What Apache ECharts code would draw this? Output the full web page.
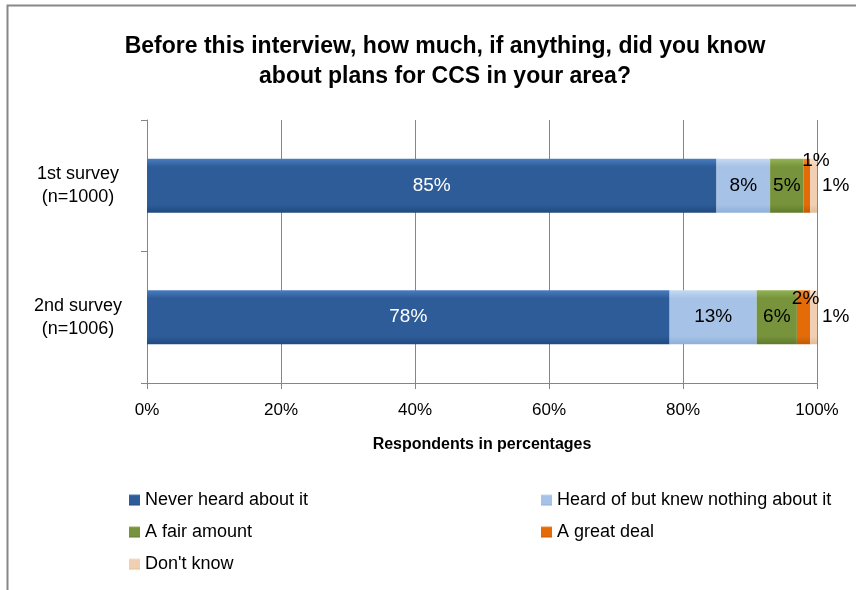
<!DOCTYPE html>
<html><head><meta charset="utf-8">
<script src="https://cdn.jsdelivr.net/npm/echarts@6/dist/echarts.min.js"></script>
<style>html,body{margin:0;padding:0;background:#fff}#c{width:856px;height:590px}</style>
</head><body><div id="c"></div>
<script>
const categories = ['1st survey\n(n=1000)', '2nd survey\n(n=1006)'];
const seriesNames = ['Never heard about it', 'Heard of but knew nothing about it', 'A fair amount', 'A great deal', "Don't know"];
const neverHeard = [85, 78];
const heardOf = [8, 13];
const fairAmount = [5, 6];
const greatDeal = [1, 2];
const dontKnow = [1, 1];
const xTicks = [0, 20, 40, 60, 80, 100];

const FONT = "'Liberation Sans', sans-serif";
const colors = [
  ['#4a7cc0', '#2d5c98', '#1f4a80'],
  ['#c6d9f1', '#a6c2e6', '#8eafd8'],
  ['#93b356', '#77933c', '#5f7a2c'],
  ['#f58a2c', '#e36c09', '#c25a05'],
  ['#f8e0cc', '#f1cfb2', '#e2bc9a']
];
function grad(c){
  return new echarts.graphic.LinearGradient(0,0,0,1,[
    {offset:0,color:c[0]},{offset:0.15,color:c[1]},{offset:0.85,color:c[1]},{offset:1,color:c[2]}]);
}
const values = [neverHeard, heardOf, fairAmount, greatDeal, dontKnow];
const labelOffsets = { 3: [[9,-25],[2,-18]] };
const series = values.map((vals, i) => ({
  name: seriesNames[i],
  type: 'bar',
  stack: 'total',
  barWidth: 54,
  itemStyle: { color: grad(colors[i]) },
  label: {
    show: true,
    position: i === 4 ? 'right' : 'inside',
    distance: i === 4 ? 5 : 6,
    formatter: '{c}%',
    fontFamily: FONT,
    fontSize: 19,
    color: i === 0 ? '#fff' : '#000'
  },
  data: vals.map((v, j) => {
    if (labelOffsets[i]) return { value: v, label: { offset: labelOffsets[i][j] } };
    return v;
  })
}));

const chart = echarts.init(document.getElementById('c'));
chart.setOption({
  animation: false,
  color: colors.map(c => c[1]),
  title: {
    text: 'Before this interview, how much, if anything, did you know\nabout plans for CCS in your area?',
    left: 440, top: 27, textAlign: 'center',
    textStyle: { fontFamily: FONT, fontSize: 23, fontWeight: 'bold', color: '#000', lineHeight: 30 }
  },
  grid: { left: 147, right: 39, top: 120, bottom: 207, containLabel: false },
  xAxis: {
    type: 'value', min: xTicks[0], max: xTicks[xTicks.length-1], interval: 20,
    name: 'Respondents in percentages', nameLocation: 'middle', nameGap: 54,
    nameTextStyle: { fontFamily: FONT, fontSize: 16, fontWeight: 'bold', color: '#000' },
    axisLine: { show: true, lineStyle: { color: '#868686', width: 1 } },
    axisTick: { show: true, length: 6, lineStyle: { color: '#868686' } },
    axisLabel: { formatter: '{value}%', fontFamily: FONT, fontSize: 17, color: '#000', margin: 19 },
    splitLine: { show: true, lineStyle: { color: '#868686', width: 1 } }
  },
  yAxis: {
    type: 'category', data: categories, inverse: true,
    axisLine: { show: true, lineStyle: { color: '#868686' } },
    axisTick: { show: true, length: 6, lineStyle: { color: '#868686' } },
    axisLabel: { fontFamily: FONT, fontSize: 18, color: '#000', align: 'center', margin: 69, lineHeight: 23 }
  },
  legend: [
    { data: [seriesNames[0], seriesNames[2], seriesNames[4]], orient: 'vertical', left: 124, top: 486,
      itemWidth: 11, itemHeight: 11, itemGap: 14, icon: 'rect',
      textStyle: { fontFamily: FONT, fontSize: 18, color: '#000' } },
    { data: [seriesNames[1], seriesNames[3]], orient: 'vertical', left: 536, top: 486,
      itemWidth: 11, itemHeight: 11, itemGap: 14, icon: 'rect',
      textStyle: { fontFamily: FONT, fontSize: 18, color: '#000' } }
  ],
  graphic: [{
    type: 'rect', shape: { x: 7.5, y: 5.5, width: 900, height: 700 },
    style: { fill: 'none', stroke: '#888', lineWidth: 2 }, silent: true, z: -1
  }],
  series: series
});
</script></body></html>
